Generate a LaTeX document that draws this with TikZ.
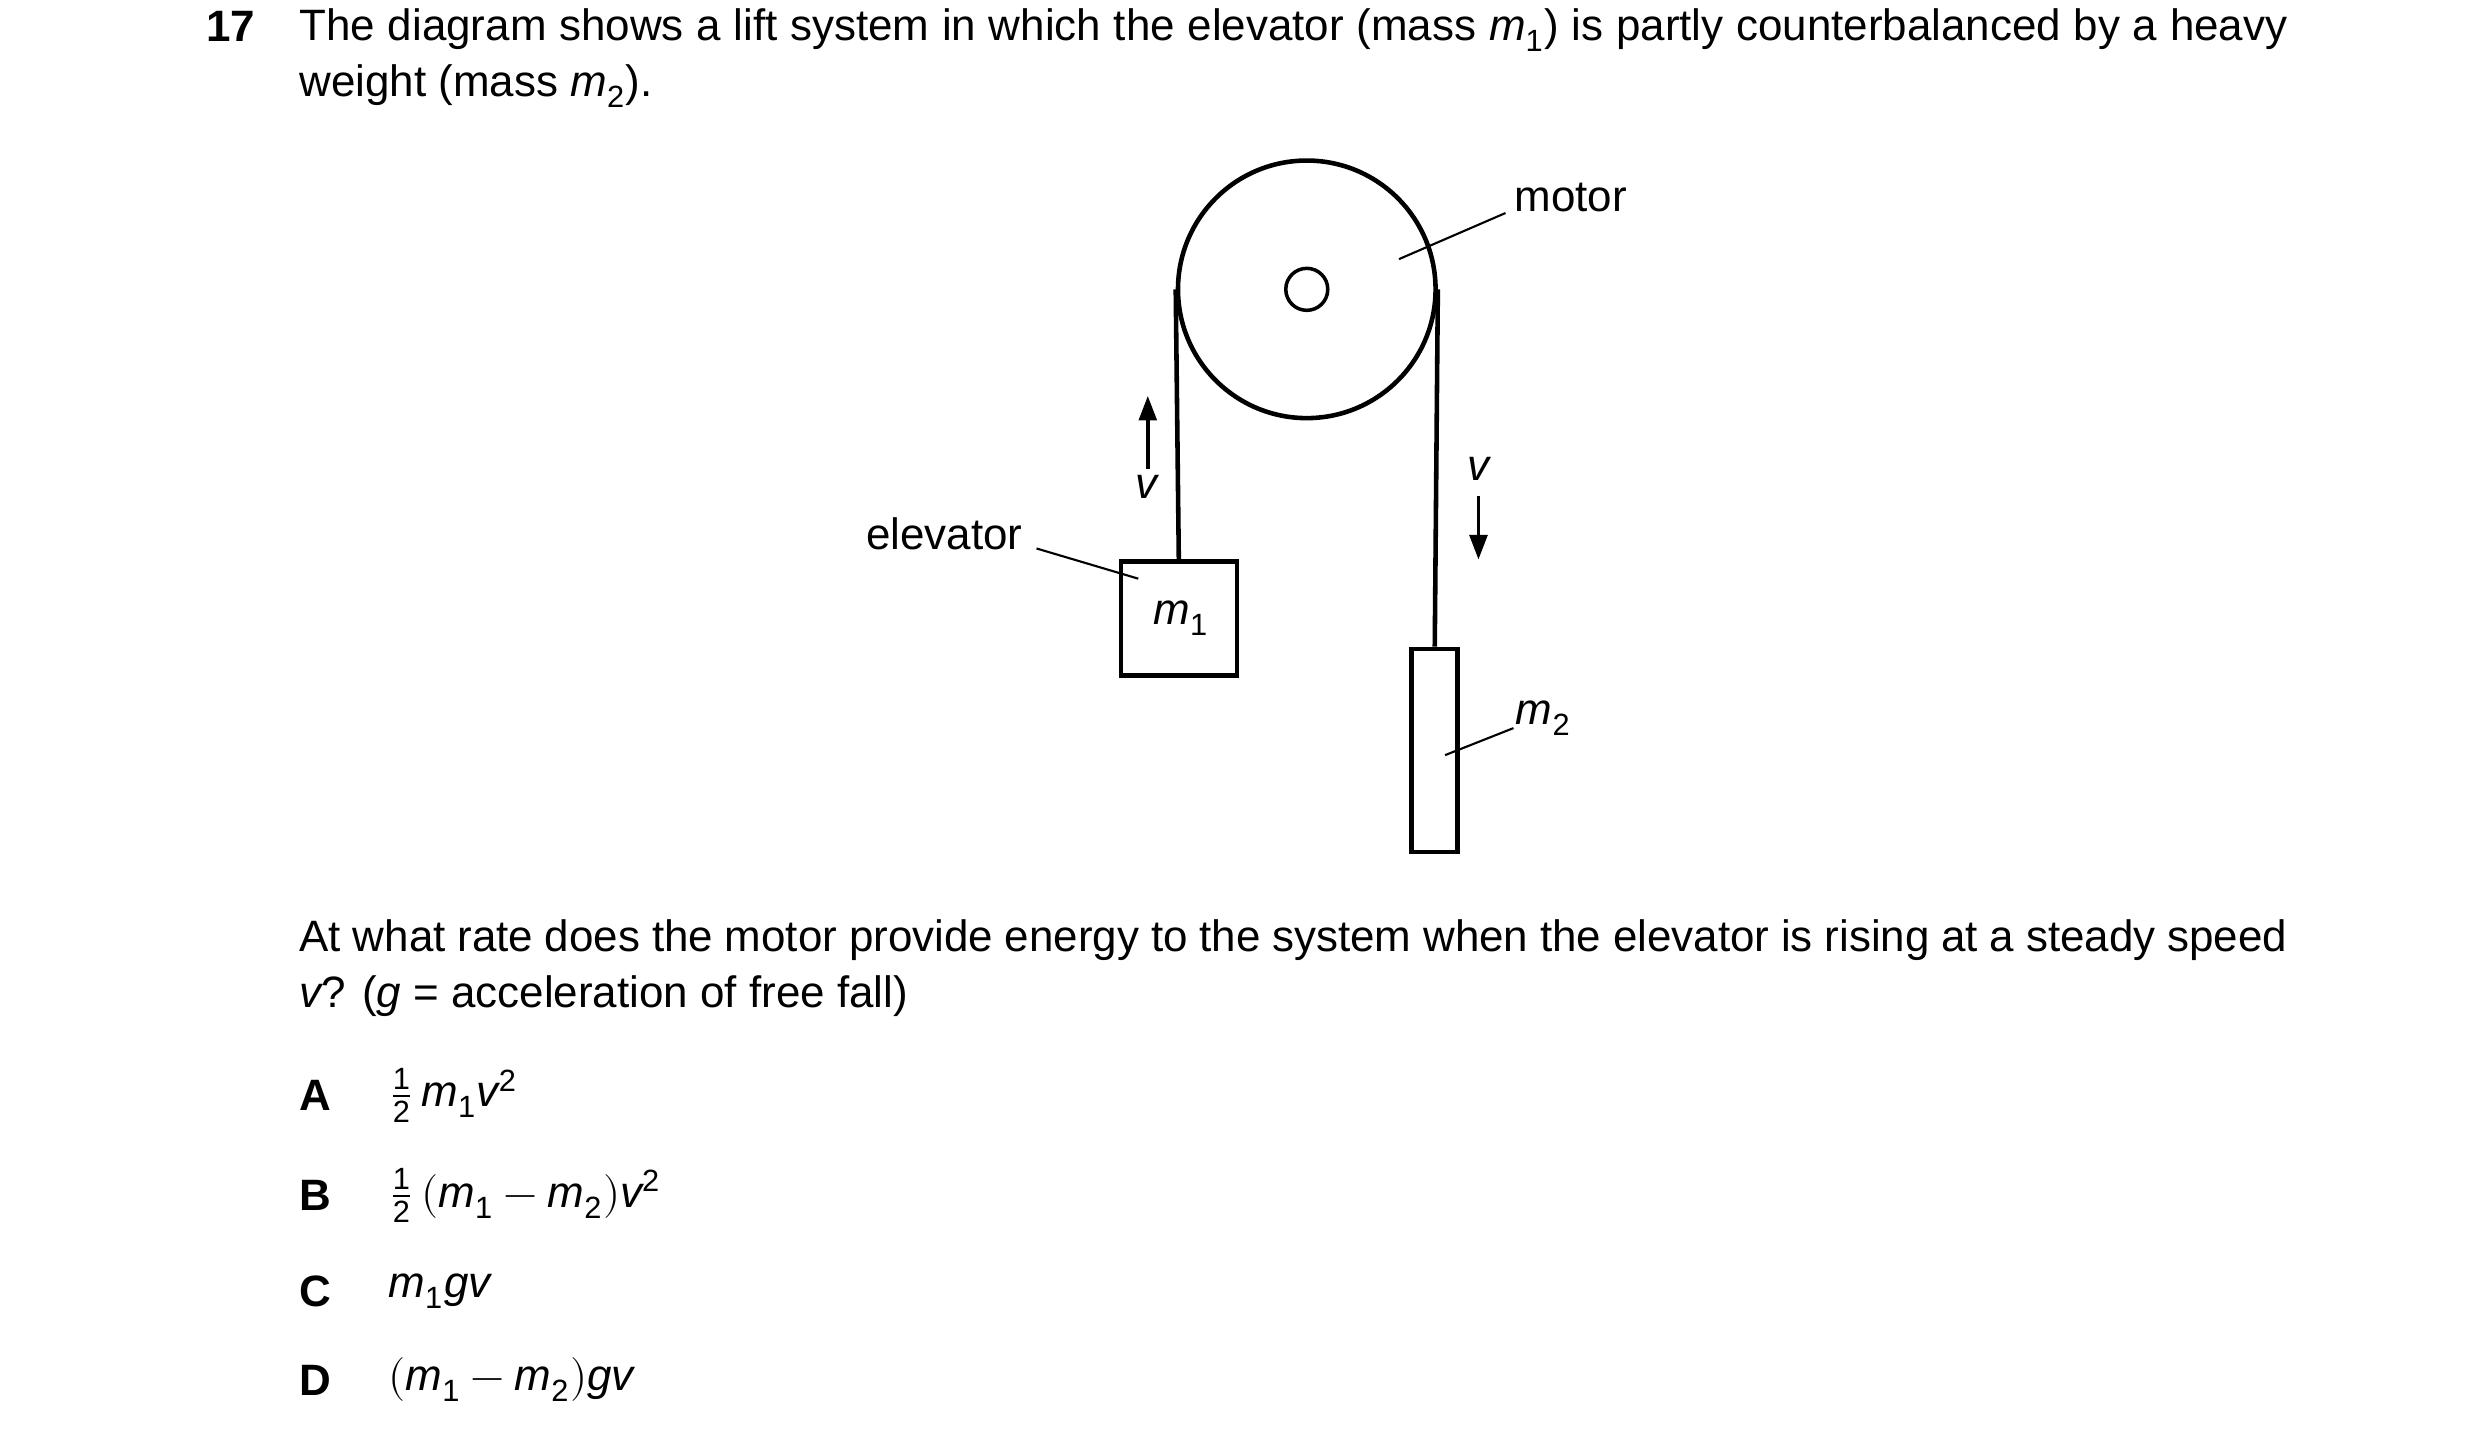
\documentclass[tikz,border=0pt]{standalone}
\usepackage{fontspec}
\setmainfont{Liberation Sans}
\usepackage{unicode-math}
\setmathfont{Latin Modern Math}
\setmathfont[range={it/{latin,Latin}}]{Liberation Sans Italic}
\setmathfont[range={up/{num}}]{Liberation Sans}
\usetikzlibrary{arrows.meta}

\begin{document}
\begin{tikzpicture}[x=0.0159cm, y=-0.0159cm, line width=1.3pt]
	\tikzstyle{txt}=[inner sep=0, font=\fontsize{12.5}{16}\selectfont];
	\tikzstyle{lab}=[inner sep=0, font=\fontsize{12.5}{15}\selectfont];
	\tikzstyle{lead}=[line width=0.6pt];
	\tikzstyle{vel}=[-{Triangle[length=7pt,width=5pt]}, line width=1.1pt];
	\tikzstyle{opt}=[inner sep=0, anchor=west, font=\fontsize{12.5}{15}\selectfont];

	\useasboundingbox (0,0) rectangle (1560,904);

	% question
	\node [txt, anchor=base east] (qno) at (162,26) {\bfseries 17};
	\node [txt, anchor=north west, text width=19.88cm, align=justify] (q1) at (187,4)
	{The diagram shows a lift system in which the elevator (mass $m_1$) is partly counterbalanced by a heavy weight (mass $m_2$).};

	% pulley
	\node [circle, draw, minimum size=2.576cm, inner sep=0] (pulley) at (822,182) {};
	\node [circle, draw, minimum size=0.42cm, inner sep=0, line width=1pt] (hub) at (822,182) {};

	% masses
	\node [draw, minimum width=1.16cm, minimum height=1.14cm, inner sep=0] (m1) at (741.5,389) {};
	\node [lab] at (743,389) {$m_{1}$};
	\node [draw, minimum width=0.46cm, minimum height=2.03cm, inner sep=0] (m2) at (902.5,472) {};

	% ropes
	\draw (pulley.west) -- (m1.north);
	\draw (pulley.east) -- (m2.north);

	% velocities
	\coordinate (vu1) at (722,295);
	\coordinate (vu2) at (722,249);
	\draw [vel] (vu1) -- (vu2);
	\node [lab] (vl) at (721,306) {$v$};
	\node [lab] (vr) at (930,295) {$v$};
	\coordinate (vd1) at (930,312);
	\coordinate (vd2) at (930,352);
	\draw [vel] (vd1) -- (vd2);

	% labels
	\node [lab] (motor) at (988,124) {motor};
	\draw [lead] (880,163) -- (947,134);
	\node [lab] (elev) at (594,336) {elevator};
	\draw [lead] (652,345) -- (716,364);
	\node [lab] (m2l) at (971,452) {$m_{2}$};
	\draw [lead] (909,475) -- (952,458);

	% second part
	\node [txt, anchor=north west, text width=19.88cm, align=justify] (q2) at (187,577)
	{At what rate does the motor provide energy to the system when the elevator is rising at a steady speed $v$? ($g$ = acceleration of free fall)};

	\node [opt] (A) at (187,689) {\bfseries A};
	\node [opt] at (243,689) {$\tfrac{1}{2}\,m_1 v^2$};
	\node [opt] (B) at (187,752) {\bfseries B};
	\node [opt] at (243,752) {$\tfrac{1}{2}\,(m_1 - m_2)v^2$};
	\node [opt] (C) at (187,812) {\bfseries C};
	\node [opt] at (243,812) {$m_1 g v$};
	\node [opt] (D) at (187,868) {\bfseries D};
	\node [opt] at (243,868) {$(m_1 - m_2)g v$};
\end{tikzpicture}
\end{document}
